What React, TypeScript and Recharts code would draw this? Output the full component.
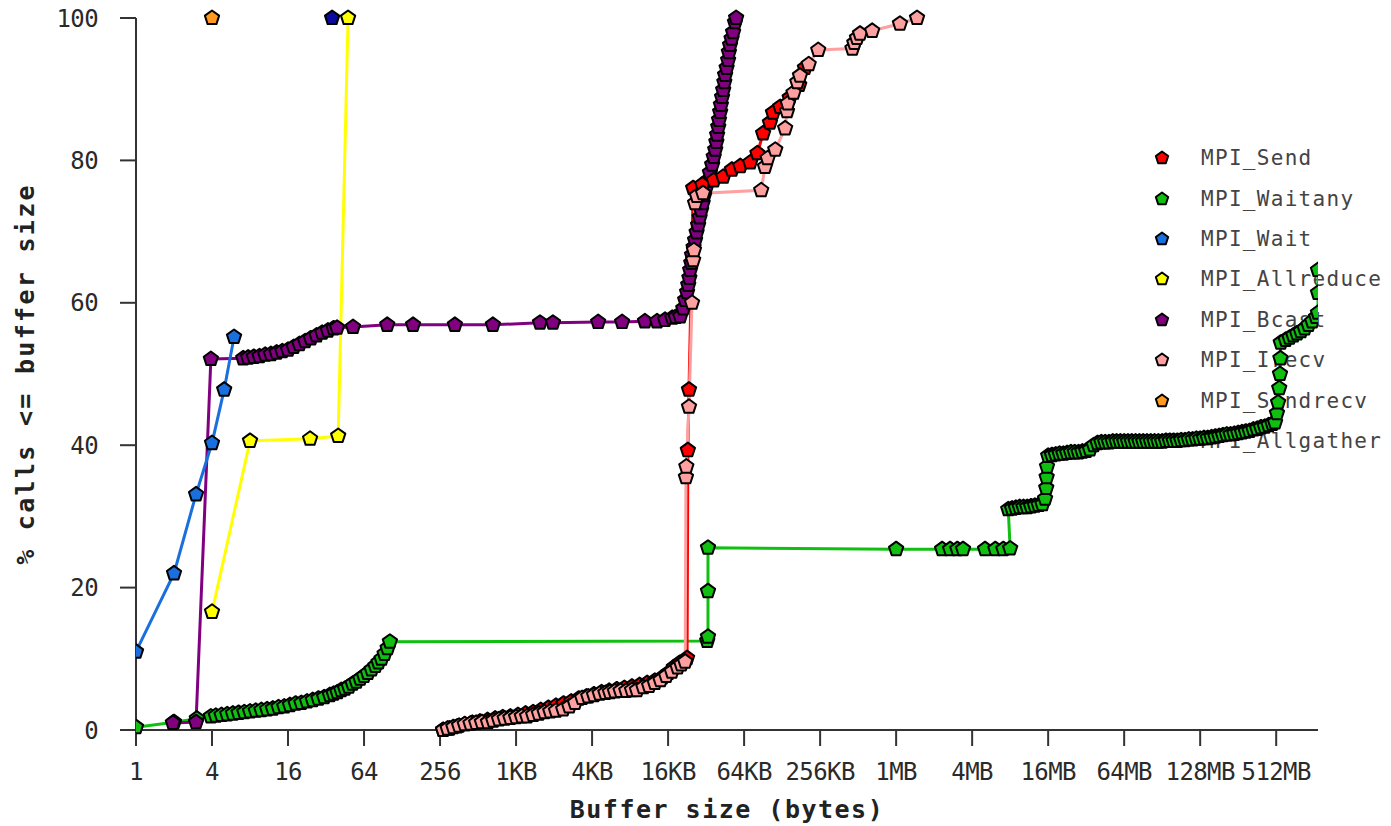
import React from 'react';
import { LineChart, Line, XAxis, YAxis, Legend, Label } from 'recharts';

type P = [number, number];

// x = log2(buffer size in bytes), y = % calls <= buffer size
const xTickValues = [0, 2, 4, 6, 8, 10, 12, 14, 16, 18, 20, 22, 24, 26, 28, 30];
const xTickLabels = ['1', '4', '16', '64', '256', '1KB', '4KB', '16KB', '64KB', '256KB', '1MB', '4MB', '16MB', '64MB', '128MB', '512MB'];
const yTickValues = [0, 20, 40, 60, 80, 100];

const legendNames = ['MPI_Send', 'MPI_Waitany', 'MPI_Wait', 'MPI_Allreduce', 'MPI_Bcast', 'MPI_Irecv', 'MPI_Sendrecv', 'MPI_Allgather'];

const mpiSend: P[] = [
  [8.08, 0], [8.25, 0.2], [8.45, 0.5], [8.65, 0.8], [8.85, 1.0], [9.05, 1.2], [9.25, 1.4], [9.45, 1.6], [9.65, 1.8],
  [9.85, 1.9], [10.05, 2.1], [10.25, 2.3], [10.45, 2.5], [10.65, 2.8], [10.85, 3.1], [11.05, 3.4], [11.25, 3.7],
  [11.45, 4.0], [11.65, 4.4], [11.85, 4.7], [12.05, 5.0], [12.25, 5.3], [12.45, 5.5], [12.65, 5.7], [12.85, 5.9],
  [13.05, 6.1], [13.25, 6.3], [13.45, 6.6], [13.65, 6.9], [13.85, 7.4], [14.0, 8.0], [14.15, 8.8], [14.3, 9.4],
  [14.5, 10.1], [14.52, 39.3], [14.55, 47.8], [14.66, 76.1], [14.9, 76.6], [15.2, 77.2], [15.45, 77.7],
  [15.68, 78.7], [15.9, 79.2], [16.16, 79.7], [16.35, 81.0], [16.5, 83.8], [16.68, 85.3], [16.76, 86.7],
  [16.95, 87.5], [17.2, 88.8], [17.45, 90.6], [17.6, 93.0],
];

const mpiWaitany: P[] = [
  [0, 0.4], [1.0, 1.1], [1.6, 1.6], [1.97, 1.9], [2.1, 2.0], [2.25, 2.1], [2.4, 2.2], [2.55, 2.3], [2.7, 2.4],
  [2.85, 2.5], [3.0, 2.6], [3.15, 2.7], [3.3, 2.8], [3.45, 2.9], [3.6, 3.0], [3.75, 3.2], [3.9, 3.3], [4.05, 3.5],
  [4.2, 3.7], [4.35, 3.8], [4.5, 4.0], [4.65, 4.2], [4.8, 4.4], [4.95, 4.6], [5.1, 4.9], [5.2, 5.1], [5.3, 5.3],
  [5.4, 5.6], [5.5, 5.8], [5.6, 6.1], [5.7, 6.5], [5.8, 6.8], [5.9, 7.2], [6.0, 7.6], [6.1, 8.0], [6.2, 8.5],
  [6.3, 9.0], [6.38, 9.5], [6.46, 10.0], [6.54, 10.7], [6.62, 11.5], [6.68, 12.4],
  [15.03, 12.5], [15.05, 13.1], [15.05, 19.5], [15.05, 25.6],
  [20.0, 25.4], [21.21, 25.4], [21.42, 25.4], [21.61, 25.4], [21.76, 25.4], [22.34, 25.4], [22.61, 25.4],
  [22.82, 25.4], [23.0, 25.5],
  [22.95, 31.0], [23.05, 31.1], [23.15, 31.2], [23.25, 31.3], [23.35, 31.3], [23.45, 31.3], [23.55, 31.4],
  [23.65, 31.5], [23.75, 31.6], [23.85, 31.7], [23.92, 32.5], [23.95, 34.0], [23.96, 35.5], [23.97, 37.0],
  [24.0, 38.5], [24.1, 38.6], [24.2, 38.7], [24.3, 38.8], [24.4, 38.8], [24.5, 38.9], [24.6, 39.0], [24.7, 39.0],
  [24.8, 39.0], [24.9, 39.1], [25.0, 39.2], [25.1, 39.4], [25.2, 40.0], [25.3, 40.3], [25.4, 40.4], [25.5, 40.4],
  [25.6, 40.4], [25.7, 40.5], [25.8, 40.5], [25.9, 40.5], [26.0, 40.5], [26.1, 40.5], [26.2, 40.5], [26.3, 40.5],
  [26.4, 40.5], [26.5, 40.5], [26.6, 40.5], [26.7, 40.5], [26.8, 40.5], [26.9, 40.5], [27.0, 40.5], [27.1, 40.6],
  [27.2, 40.6], [27.3, 40.6], [27.4, 40.6], [27.5, 40.7], [27.6, 40.7], [27.7, 40.8], [27.8, 40.8], [27.9, 40.9],
  [28.0, 40.9], [28.1, 41.0], [28.2, 41.0], [28.3, 41.1], [28.4, 41.2], [28.5, 41.3], [28.6, 41.4], [28.7, 41.5],
  [28.8, 41.5], [28.9, 41.6], [29.0, 41.7], [29.1, 41.8], [29.2, 41.9], [29.3, 42.0], [29.4, 42.2], [29.5, 42.3],
  [29.6, 42.5], [29.7, 42.6], [29.8, 42.8], [29.9, 43.0], [29.97, 43.2],
  [30.02, 44.5], [30.05, 46.0], [30.08, 48.0], [30.1, 50.0], [30.11, 52.2], [30.12, 54.4], [30.25, 54.8],
  [30.35, 55.1], [30.45, 55.4], [30.55, 55.7], [30.65, 56.0], [30.75, 56.4], [30.85, 56.9], [30.95, 57.4],
  [31.05, 58.0], [31.1, 58.6], [31.1, 61.4], [31.1, 64.6],
];

const mpiWait: P[] = [[0, 11.0], [1.0, 22.0], [1.58, 33.1], [2.0, 40.3], [2.32, 47.8], [2.58, 55.2]];

const mpiAllreduce: P[] = [[2.0, 16.6], [3.0, 40.6], [4.58, 40.9], [5.32, 41.3], [5.58, 100]];

const mpiBcast: P[] = [
  [0.97, 1.0], [1.58, 1.1], [1.97, 52.1], [2.82, 52.2], [2.95, 52.3], [3.1, 52.4], [3.25, 52.5], [3.4, 52.7],
  [3.55, 52.8], [3.7, 53.0], [3.85, 53.2], [4.0, 53.4], [4.15, 53.8], [4.3, 54.2], [4.45, 54.6], [4.6, 55.0],
  [4.75, 55.4], [4.9, 55.8], [5.05, 56.1], [5.2, 56.4], [5.29, 56.5],
  [5.71, 56.6], [6.61, 56.9], [7.29, 56.9], [8.39, 56.9], [9.39, 56.9], [10.63, 57.2], [10.97, 57.2],
  [12.16, 57.3], [12.79, 57.3], [13.39, 57.4], [13.71, 57.4], [13.92, 57.6],
  [14.11, 57.9], [14.2, 58.0], [14.32, 58.1], [14.4, 59.2], [14.45, 60.4], [14.5, 61.5], [14.53, 62.5],
  [14.56, 63.5], [14.58, 64.6], [14.61, 65.6], [14.63, 66.7], [14.67, 67.8], [14.71, 68.8], [14.75, 69.9],
  [14.79, 70.9], [14.83, 72.0], [14.87, 73.0], [14.91, 74.0], [14.95, 75.1], [15.0, 76.2], [15.05, 77.2],
  [15.1, 78.3], [15.16, 79.4], [15.2, 80.5], [15.24, 81.5], [15.27, 82.6], [15.29, 83.6], [15.32, 84.7],
  [15.34, 85.7], [15.37, 86.8], [15.39, 87.8], [15.42, 88.9], [15.45, 89.9], [15.48, 91.0], [15.5, 92.0],
  [15.54, 93.0], [15.58, 94.1], [15.6, 95.2], [15.63, 96.2], [15.67, 97.1], [15.71, 98.0], [15.76, 99.4],
  [15.79, 100],
];

const mpiIrecv: P[] = [
  [8.08, 0], [8.2, 0.2], [8.35, 0.4], [8.5, 0.6], [8.65, 0.8], [8.8, 0.9], [8.95, 1.0], [9.1, 1.1], [9.26, 1.1],
  [9.4, 1.3], [9.55, 1.5], [9.7, 1.6], [9.85, 1.7], [10.0, 1.8], [10.15, 1.9], [10.29, 1.9], [10.45, 2.1],
  [10.6, 2.3], [10.75, 2.5], [10.9, 2.6], [11.05, 2.7], [11.24, 2.9], [11.4, 3.3], [11.55, 3.8], [11.74, 4.5],
  [11.9, 4.7], [12.05, 4.9], [12.2, 5.1], [12.35, 5.2], [12.47, 5.3], [12.6, 5.4], [12.75, 5.5], [12.9, 5.5],
  [13.05, 5.6], [13.18, 5.6], [13.35, 6.0], [13.5, 6.2], [13.65, 6.6], [13.8, 7.0], [13.95, 7.6], [14.1, 8.2],
  [14.25, 8.8], [14.35, 9.2], [14.45, 9.6],
  [14.47, 35.5], [14.48, 37.0], [14.55, 45.4], [14.63, 60.0], [14.66, 66.0], [14.68, 67.4], [14.71, 74.0],
  [14.76, 75.0], [14.92, 75.4], [16.45, 75.8], [16.55, 79.1], [16.62, 80.3], [16.82, 81.5], [17.08, 84.5],
  [17.13, 86.9], [17.15, 88.0], [17.3, 89.5], [17.4, 91.0], [17.47, 91.9], [17.7, 93.5], [17.95, 95.5],
  [18.85, 95.7], [18.9, 96.5], [18.97, 97.2], [19.05, 97.8], [19.37, 98.2], [20.1, 99.2], [20.55, 100],
];

const mpiSendrecv: P[] = [[2.0, 100]];
const mpiAllgather: P[] = [[5.16, 100]];

const colors: Record<string, string> = {
  MPI_Send: '#ff0000',
  MPI_Waitany: '#10c010',
  MPI_Wait: '#1a6fdf',
  MPI_Allreduce: '#ffff00',
  MPI_Bcast: '#800080',
  MPI_Irecv: '#ffa0a0',
  MPI_Sendrecv: '#ff9a1f',
  MPI_Allgather: '#0a0a9c',
};

// drawing order (bottom to top)
const drawOrder: { name: string; pts: P[] }[] = [
  { name: 'MPI_Waitany', pts: mpiWaitany },
  { name: 'MPI_Bcast', pts: mpiBcast },
  { name: 'MPI_Wait', pts: mpiWait },
  { name: 'MPI_Allreduce', pts: mpiAllreduce },
  { name: 'MPI_Send', pts: mpiSend },
  { name: 'MPI_Irecv', pts: mpiIrecv },
  { name: 'MPI_Sendrecv', pts: mpiSendrecv },
  { name: 'MPI_Allgather', pts: mpiAllgather },
];

const toRows = (pts: P[]) => pts.map(([x, y]) => ({ x, y }));

const pentPoints = (cx: number, cy: number, r: number) => {
  const out: string[] = [];
  for (let i = 0; i < 5; i++) {
    const a = -Math.PI / 2 + (i * 2 * Math.PI) / 5;
    out.push(`${cx + r * Math.cos(a)},${cy + r * Math.sin(a)}`);
  }
  return out.join(' ');
};

const Pent = ({ cx, cy, fill, r = 7.5 }: { cx: number; cy: number; fill: string; r?: number }) => (
  <polygon points={pentPoints(cx, cy, r)} fill={fill} stroke="#000" strokeWidth={2} strokeLinejoin="round" />
);

const MONO = '"DejaVu Sans Mono", monospace';

const LegendBox = () => (
  <div style={{ fontFamily: MONO, fontSize: 21, letterSpacing: 1.3, color: '#444', whiteSpace: 'nowrap' }}>
    {legendNames.map((n) => (
      <div key={n} style={{ display: 'flex', alignItems: 'center', height: 40.4 }}>
        <svg width={16} height={16} style={{ marginRight: 31, flex: 'none' }}>
          <Pent cx={8} cy={8} fill={colors[n]} r={6.5} />
        </svg>
        <span>{n}</span>
      </div>
    ))}
  </div>
);

const tickStyle = { fontFamily: MONO, fontSize: 24, letterSpacing: -0.6, fill: '#2a2a2a' };

export default function App() {
  return (
    <div style={{ position: 'absolute', left: 0, top: 0, width: 1391, height: 826 }}>
      <LineChart width={1391} height={826} margin={{ top: 18, right: 73, bottom: 0, left: 0 }}>
        <XAxis
          type="number"
          dataKey="x"
          domain={[0, 31.1]}
          ticks={xTickValues}
          tickFormatter={(v: number) => xTickLabels[xTickValues.indexOf(v)] ?? ''}
          allowDataOverflow
          height={96}
          tickSize={16}
          tickMargin={17}
          interval={0}
          stroke="#333"
          strokeWidth={2}
          tick={tickStyle}
        >
          <Label
            content={(p: any) => {
              const vb = p.viewBox || { x: 136, y: 730, width: 1182, height: 96 };
              return (
                <text
                  x={vb.x + vb.width / 2}
                  y={vb.y + 88}
                  textAnchor="middle"
                  style={{ fontFamily: MONO, fontWeight: 'bold', fontSize: 25, letterSpacing: 1.5, fill: '#222' }}
                >
                  Buffer size (bytes)
                </text>
              );
            }}
          />
        </XAxis>
        <YAxis
          type="number"
          dataKey="y"
          domain={[0, 100]}
          ticks={yTickValues}
          width={136}
          tickSize={16}
          tickMargin={22}
          stroke="#333"
          strokeWidth={2}
          tick={tickStyle}
        >
          <Label
            content={(p: any) => {
              const vb = p.viewBox || { x: 0, y: 18, width: 136, height: 712 };
              const cx = vb.x + 34;
              const cy = vb.y + vb.height / 2;
              return (
                <text
                  x={cx}
                  y={cy}
                  textAnchor="middle"
                  transform={`rotate(-90 ${cx} ${cy})`}
                  style={{ fontFamily: MONO, fontWeight: 'bold', fontSize: 25, letterSpacing: 2.3, fill: '#222' }}
                >
                  % calls &lt;= buffer size
                </text>
              );
            }}
          />
        </YAxis>
        {drawOrder.map((s) => (
          <Line
            key={s.name}
            name={s.name}
            data={toRows(s.pts)}
            dataKey="y"
            type="linear"
            stroke={colors[s.name]}
            strokeWidth={3}
            isAnimationActive={false}
            activeDot={false}
            dot={(p: any) => <Pent key={`${s.name}-${p.index}`} cx={p.cx} cy={p.cy} fill={colors[s.name]} />}
          />
        ))}
        <Legend
          layout="vertical"
          align="center"
          verticalAlign="middle"
          content={() => <LegendBox />}
          wrapperStyle={{ left: 1154, top: 138, width: 229, zIndex: -1 }}
        />
      </LineChart>
    </div>
  );
}
